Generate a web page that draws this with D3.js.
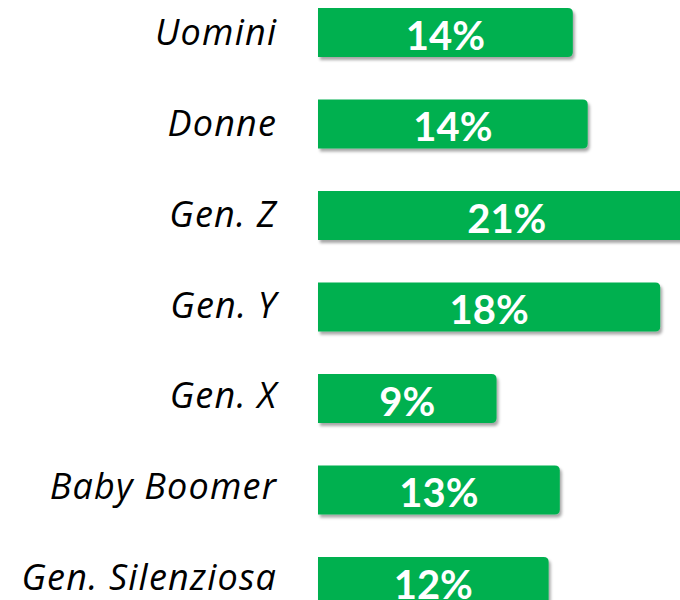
<!DOCTYPE html>
<html>
<head>
<meta charset="utf-8">
<script src="https://cdn.jsdelivr.net/npm/d3@7"></script>
<style>
  body { margin: 0; background: #fff; }
  svg { display: block; }
</style>
</head>
<body>
<svg id="chart"></svg>
<script>
// categories and values
const categories = ["Uomini", "Donne", "Gen. Z", "Gen. Y", "Gen. X", "Baby Boomer", "Gen. Silenziosa"];
const values = [13.7, 14.5, 20.3, 18.4, 9.6, 13.0, 12.4];
const valueLabels = ["14%", "14%", "21%", "18%", "9%", "13%", "12%"];

const width = 680, height = 600;
const svg = d3.select("#chart").attr("width", width).attr("height", height);

const defs = svg.append("defs");
const shadow = defs.append("filter")
    .attr("id", "shadow")
    .attr("x", "-10%").attr("y", "-20%")
    .attr("width", "130%").attr("height", "160%");
shadow.append("feDropShadow")
    .attr("dx", 2).attr("dy", 3)
    .attr("stdDeviation", 1.8)
    .attr("flood-color", "#000")
    .attr("flood-opacity", 0.35);

const x = d3.scaleLinear()
    .domain([0, 20])
    .range([318, 690]);

const step = 91.5;
const y = d3.scaleBand()
    .domain(categories)
    .range([8 - 0.2325 * step, 8 - 0.2325 * step + categories.length * step])
    .paddingInner(0.465)
    .paddingOuter(0.2325);

// category labels sit on a slightly tighter pitch than the bars
const yLabel = d3.scalePoint()
    .domain(categories)
    .range([45, 590]);

// bar with square left edge and rounded right corners
function barPath(x0, x1, y0, h, r) {
    return `M${x0},${y0}H${x1 - r}Q${x1},${y0} ${x1},${y0 + r}V${y0 + h - r}Q${x1},${y0 + h} ${x1 - r},${y0 + h}H${x0}Z`;
}

const rows = svg.selectAll(".row")
    .data(categories.map((c, i) => ({ cat: c, value: values[i], label: valueLabels[i] })))
    .join("g")
    .attr("class", "row");

rows.append("path")
    .attr("d", d => barPath(x(0), x(d.value), y(d.cat), y.bandwidth(), 5))
    .attr("fill", "#00b050")
    .attr("filter", "url(#shadow)");

rows.append("text")
    .attr("x", 277.2)
    .attr("y", d => yLabel(d.cat))
    .attr("text-anchor", "end")
    .attr("font-family", "'Open Sans', sans-serif")
    .attr("font-style", "italic")
    .attr("font-size", 36)
    .attr("letter-spacing", 1.2)
    .attr("fill", "#000")
    .text(d => d.cat);

rows.append("text")
    .attr("x", d => (x(0) + x(d.value)) / 2)
    .attr("y", d => y(d.cat) + y.bandwidth() / 2 + 17.5)
    .attr("text-anchor", "middle")
    .attr("font-family", "Lato, sans-serif")
    .attr("font-weight", "bold")
    .attr("font-size", 40)
    .attr("fill", "#fff")
    .text(d => d.label);
</script>
</body>
</html>
